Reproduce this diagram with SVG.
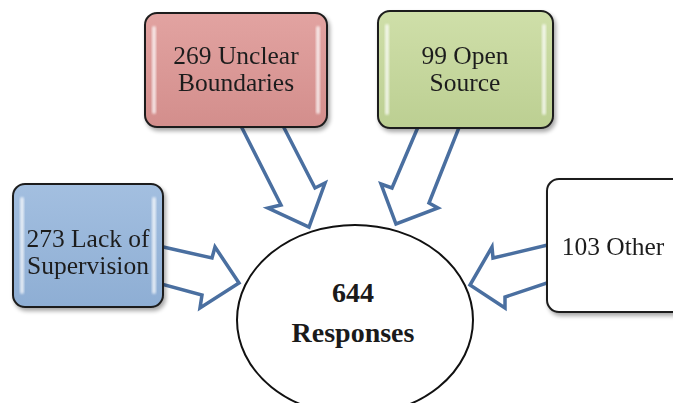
<svg xmlns="http://www.w3.org/2000/svg" width="673" height="403" viewBox="0 0 673 403">
  <style>
    .box { stroke: #1e1e1e; stroke-width: 2; }
    .shine { fill: #ffffff; opacity: 0.7; }
    .label { font-family: "Liberation Serif", "Times New Roman", serif; font-size: 25.5px; fill: #1f1f1f; text-anchor: middle; }
    .bold { font-family: "Liberation Serif", "Times New Roman", serif; font-size: 28px; font-weight: bold; fill: #1a1a1a; text-anchor: middle; }
    .arrow { fill: #ffffff; stroke: #4a6fa0; stroke-width: 3.5; stroke-linejoin: miter; }
  </style>
  <defs>
    <filter id="shadow" x="-10%" y="-10%" width="125%" height="130%">
      <feGaussianBlur in="SourceAlpha" stdDeviation="2"/>
      <feOffset dx="1.5" dy="2.5" result="b"/>
      <feComponentTransfer><feFuncA type="linear" slope="0.35"/></feComponentTransfer>
      <feMerge><feMergeNode/><feMergeNode in="SourceGraphic"/></feMerge>
    </filter>
    <filter id="soft"><feGaussianBlur stdDeviation="1.3"/></filter>
    <linearGradient id="gRed" x1="0" y1="0" x2="0" y2="1">
      <stop offset="0" stop-color="#e2a3a1"/>
      <stop offset="1" stop-color="#d38e8c"/>
    </linearGradient>
    <linearGradient id="gGreen" x1="0" y1="0" x2="0" y2="1">
      <stop offset="0" stop-color="#cfdfa9"/>
      <stop offset="1" stop-color="#bccf92"/>
    </linearGradient>
    <linearGradient id="gBlue" x1="0" y1="0" x2="0" y2="1">
      <stop offset="0" stop-color="#a3bfe0"/>
      <stop offset="1" stop-color="#8eaed4"/>
    </linearGradient>
  </defs>

  <!-- block arrows pointing into the centre ellipse -->
  <g id="connectors">
    <polygon class="arrow" points="150,244 212,258 215,247 239,283 200,308 202,295 150,281"/>
    <polygon class="arrow" points="238,120 281,205 268,208 309,227 325,183 315,188 280,120"/>
    <polygon class="arrow" points="421,120 392,188 381,184 396,224 438,208 429,203 462,120"/>
    <polygon class="arrow" points="556,243 493,258 492,247 470,285 505,308 505,297 556,280"/>
  </g>

  <g id="unclear-boundaries" filter="url(#shadow)">
    <rect class="box" x="145" y="13" width="182" height="114" rx="12" fill="url(#gRed)"/>
    <rect class="shine" x="152" y="26" width="4" height="88" rx="2" filter="url(#soft)"/>
    <rect class="shine" x="316" y="26" width="4" height="88" rx="2" filter="url(#soft)"/>
    <text class="label" x="236" y="64">269 Unclear</text>
    <text class="label" x="236" y="91">Boundaries</text>
  </g>

  <g id="open-source" filter="url(#shadow)">
    <rect class="box" x="378" y="11" width="175" height="117" rx="12" fill="url(#gGreen)"/>
    <rect class="shine" x="385" y="24" width="4" height="91" rx="2" filter="url(#soft)"/>
    <rect class="shine" x="542" y="24" width="4" height="91" rx="2" filter="url(#soft)"/>
    <text class="label" x="465" y="64">99 Open</text>
    <text class="label" x="465" y="91">Source</text>
  </g>

  <g id="lack-of-supervision" filter="url(#shadow)">
    <rect class="box" x="13" y="184" width="150" height="123" rx="12" fill="url(#gBlue)"/>
    <rect class="shine" x="20" y="197" width="4" height="97" rx="2" filter="url(#soft)"/>
    <rect class="shine" x="152" y="197" width="4" height="97" rx="2" filter="url(#soft)"/>
    <text class="label" x="88" y="247">273 Lack of</text>
    <text class="label" x="88" y="274">Supervision</text>
  </g>

  <g id="other" filter="url(#shadow)">
    <rect class="box" x="547" y="179" width="145" height="133" rx="12" fill="#ffffff"/>
    <text class="label" x="613" y="255">103 Other</text>
  </g>

  <g id="responses">
    <ellipse cx="355" cy="320" rx="118" ry="95" fill="#ffffff" stroke="#111111" stroke-width="2"/>
    <text class="bold" x="353" y="302">644</text>
    <text class="bold" x="353" y="342">Responses</text>
  </g>
</svg>
